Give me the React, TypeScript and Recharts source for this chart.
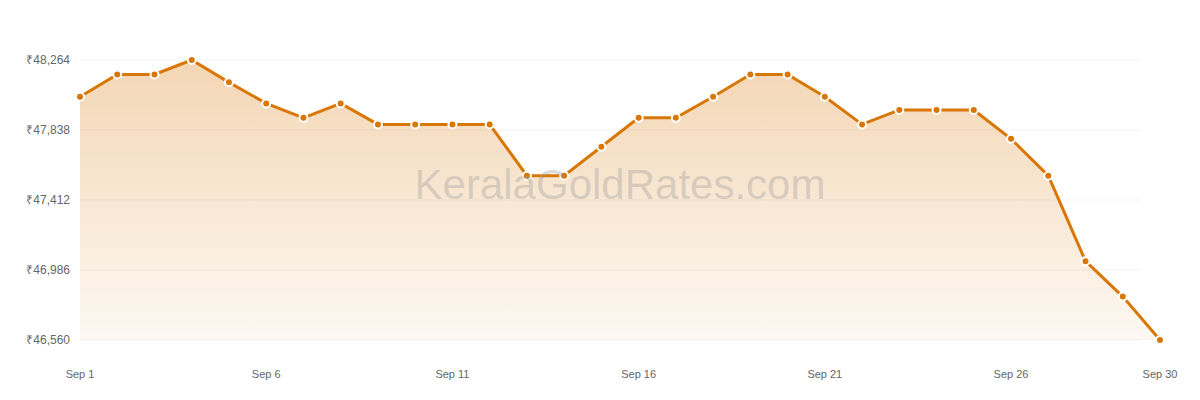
import { AreaChart, Area, XAxis, YAxis, CartesianGrid } from 'recharts';

const days = [
  'Sep 1', 'Sep 2', 'Sep 3', 'Sep 4', 'Sep 5', 'Sep 6', 'Sep 7', 'Sep 8', 'Sep 9', 'Sep 10',
  'Sep 11', 'Sep 12', 'Sep 13', 'Sep 14', 'Sep 15', 'Sep 16', 'Sep 17', 'Sep 18', 'Sep 19', 'Sep 20',
  'Sep 21', 'Sep 22', 'Sep 23', 'Sep 24', 'Sep 25', 'Sep 26', 'Sep 27', 'Sep 28', 'Sep 29', 'Sep 30',
];

const rates = [
  48040, 48176, 48176, 48264, 48128, 48000, 47912, 48000, 47872, 47872,
  47872, 47872, 47560, 47560, 47736, 47912, 47912, 48040, 48176, 48176,
  48040, 47872, 47960, 47960, 47960, 47784, 47560, 47040, 46824, 46560,
];

const yTicks = [46560, 46986, 47412, 47838, 48264];
const xTicks = ['Sep 1', 'Sep 6', 'Sep 11', 'Sep 16', 'Sep 21', 'Sep 26', 'Sep 30'];

const chartData = days.map((day, i) => ({ day, rate: rates[i] }));

const gridLine = (props: any) => (
  <line
    key={props.key ?? `g-${props.y1}`}
    x1={props.x1}
    x2={props.x2 - 20}
    y1={props.y1}
    y2={props.y2}
    stroke="#f3f3f3"
    strokeWidth={1}
  />
);

function GoldRateChart() {
  return (
    <div style={{ position: 'absolute', left: 0, top: 0, width: 1200, height: 400 }}>
      <AreaChart width={1200} height={400} data={chartData} margin={{ top: 60, right: 40, left: 0, bottom: 30 }}>
        <defs>
          <linearGradient id="goldFill" x1="0" y1="0" x2="0" y2="1">
            <stop offset="0%" stopColor="#d97706" stopOpacity={0.3} />
            <stop offset="100%" stopColor="#d97706" stopOpacity={0.05} />
          </linearGradient>
        </defs>
        <CartesianGrid vertical={false} horizontal={gridLine} />
        <XAxis
          dataKey="day"
          ticks={xTicks}
          interval={0}
          axisLine={false}
          tickLine={false}
          tickMargin={24}
          height={30}
          tick={{ fontSize: 11, fill: '#666', fontFamily: 'Arial, "Liberation Sans", sans-serif' }}
        />
        <YAxis
          domain={[46560, 48264]}
          ticks={yTicks}
          width={80}
          axisLine={false}
          tickLine={false}
          tickMargin={4}
          tickFormatter={(v: number) => `₹${v.toLocaleString('en-US')}`}
          tick={{ fontSize: 12, fill: '#666', fontFamily: 'Arial, "Liberation Sans", sans-serif' }}
        />
        <Area
          type="linear"
          dataKey="rate"
          stroke="#d97706"
          strokeWidth={3}
          fill="url(#goldFill)"
          fillOpacity={1}
          dot={{ r: 4, fill: '#d97706', fillOpacity: 1, stroke: '#fff', strokeWidth: 2 }}
          isAnimationActive={false}
        />
      </AreaChart>
      <svg width={1200} height={400} style={{ position: 'absolute', left: 0, top: 0, pointerEvents: 'none' }}>
        <text
          x={620}
          y={199}
          textAnchor="middle"
          fontSize={42}
          fontFamily='Arial, "Liberation Sans", sans-serif'
          fill="#999"
          fillOpacity={0.35}
        >
          KeralaGoldRates.com
        </text>
      </svg>
    </div>
  );
}

export default function App() {
  return <GoldRateChart />;
}
